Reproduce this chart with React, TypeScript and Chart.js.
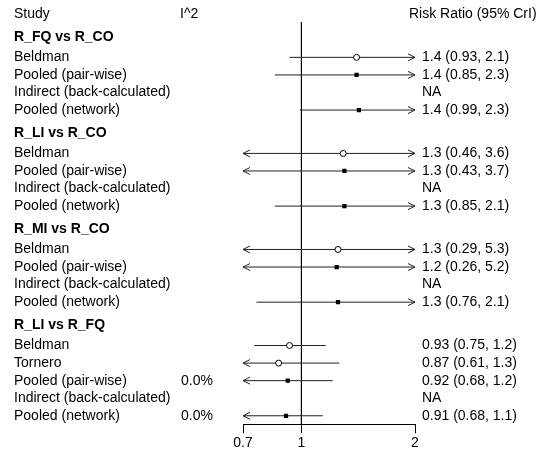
import React, { useEffect, useRef } from "react";
import { Chart, registerables } from "chart.js";

Chart.register(...registerables);

// ---- data ----
const headerLabels = ["Study", "I^2", "Risk Ratio (95% CrI)"];
const groupTitles = ["R_FQ vs R_CO", "R_LI vs R_CO", "R_MI vs R_CO", "R_LI vs R_FQ"];
const groupSizes = [4, 4, 4, 5];
const studyLabels = [
  "Beldman", "Pooled (pair-wise)", "Indirect (back-calculated)", "Pooled (network)",
  "Beldman", "Pooled (pair-wise)", "Indirect (back-calculated)", "Pooled (network)",
  "Beldman", "Pooled (pair-wise)", "Indirect (back-calculated)", "Pooled (network)",
  "Beldman", "Tornero", "Pooled (pair-wise)", "Indirect (back-calculated)", "Pooled (network)",
];
const heterogeneity = [
  "", "", "", "",
  "", "", "", "",
  "", "", "", "",
  "", "", "0.0%", "", "0.0%",
];
const markerKinds = [
  "study", "pooled", "none", "pooled",
  "study", "pooled", "none", "pooled",
  "study", "pooled", "none", "pooled",
  "study", "study", "pooled", "none", "pooled",
];
const estimates: (number | null)[] = [
  1.4, 1.4, null, 1.42,
  1.29, 1.3, null, 1.3,
  1.25, 1.24, null, 1.25,
  0.93, 0.87, 0.92, null, 0.91,
];
const lowers: (number | null)[] = [
  0.93, 0.85, null, 0.99,
  0.46, 0.43, null, 0.85,
  0.29, 0.26, null, 0.76,
  0.75, 0.61, 0.68, null, 0.68,
];
const uppers: (number | null)[] = [
  2.1, 2.3, null, 2.3,
  3.6, 3.7, null, 2.1,
  5.3, 5.2, null, 2.1,
  1.16, 1.26, 1.21, null, 1.14,
];
const ciLabels = [
  "1.4 (0.93, 2.1)", "1.4 (0.85, 2.3)", "NA", "1.4 (0.99, 2.3)",
  "1.3 (0.46, 3.6)", "1.3 (0.43, 3.7)", "NA", "1.3 (0.85, 2.1)",
  "1.3 (0.29, 5.3)", "1.2 (0.26, 5.2)", "NA", "1.3 (0.76, 2.1)",
  "0.93 (0.75, 1.2)", "0.87 (0.61, 1.3)", "0.92 (0.68, 1.2)", "NA", "0.91 (0.68, 1.1)",
];
const xTicks = [0.7, 1, 2];
const xMin = 0.7;
const xMax = 2;
const refValue = 1;

const FONT = '"Liberation Sans", Arial, Helvetica, sans-serif';

export default function App() {
  const canvasRef = useRef<HTMLCanvasElement>(null);

  useEffect(() => {
    const canvas = canvasRef.current;
    if (!canvas) return;

    // row layout (in row units)
    const titlePos: number[] = [];
    const rowPos: number[] = [];
    let pos = 0;
    groupSizes.forEach((n) => {
      pos += 1.31;
      titlePos.push(pos);
      pos += 1.16;
      for (let i = 0; i < n; i++) rowPos.push(pos + i);
      pos += n - 1;
    });
    const yTop = 0.456;
    const yBottom = rowPos[rowPos.length - 1] + 0.48;

    const circles: { x: number; y: number }[] = [];
    const squares: { x: number; y: number }[] = [];
    const ciSets: any[] = [];
    rowPos.forEach((y, i) => {
      const est = estimates[i];
      const lo = lowers[i];
      const hi = uppers[i];
      if (est == null || lo == null || hi == null) return;
      ciSets.push({
        data: [
          { x: Math.max(lo, xMin), y },
          { x: Math.min(hi, xMax), y },
        ],
        showLine: true,
        borderColor: "#222",
        borderWidth: 1,
        pointRadius: 0,
        pointHoverRadius: 0,
      });
      if (markerKinds[i] === "study") circles.push({ x: est, y });
      else if (markerKinds[i] === "pooled") squares.push({ x: est, y });
    });

    const textPlugin = {
      id: "forestText",
      afterDraw(chart: any) {
        const ctx = chart.ctx as CanvasRenderingContext2D;
        const ys = chart.scales.y;
        const xs = chart.scales.x;
        ctx.save();
        ctx.fillStyle = "#000";
        ctx.textBaseline = "middle";
        ctx.textAlign = "left";
        ctx.font = `14px ${FONT}`;
        const yh = ys.getPixelForValue(0);
        ctx.fillText(headerLabels[0], 14, yh);
        ctx.fillText(headerLabels[1], 180, yh);
        ctx.fillText(headerLabels[2], 409, yh);
        ctx.font = `bold 14px ${FONT}`;
        groupTitles.forEach((t, g) => {
          ctx.fillText(t, 14, ys.getPixelForValue(titlePos[g]));
        });
        ctx.font = `14px ${FONT}`;
        rowPos.forEach((p, i) => {
          const y = ys.getPixelForValue(p);
          ctx.fillText(studyLabels[i], 14, y);
          if (heterogeneity[i]) ctx.fillText(heterogeneity[i], 181, y);
          ctx.fillText(ciLabels[i], 422, y);
        });
        // arrow heads for intervals beyond the axis range
        ctx.strokeStyle = "#222";
        ctx.lineWidth = 1;
        rowPos.forEach((p, i) => {
          const lo = lowers[i];
          const hi = uppers[i];
          if (lo == null || hi == null) return;
          const y = ys.getPixelForValue(p);
          if (lo < xMin) {
            const x = xs.getPixelForValue(xMin);
            ctx.beginPath();
            ctx.moveTo(x + 7, y - 3.5);
            ctx.lineTo(x, y);
            ctx.lineTo(x + 7, y + 3.5);
            ctx.stroke();
          }
          if (hi > xMax) {
            const x = xs.getPixelForValue(xMax);
            ctx.beginPath();
            ctx.moveTo(x - 7, y - 3.5);
            ctx.lineTo(x, y);
            ctx.lineTo(x - 7, y + 3.5);
            ctx.stroke();
          }
        });
        ctx.restore();
      },
    };

    const chart = new Chart(canvas, {
      type: "scatter",
      data: {
        datasets: [
          {
            data: squares,
            pointStyle: "rect",
            pointRadius: 3,
            pointHoverRadius: 3,
            backgroundColor: "#000",
            borderColor: "#000",
            borderWidth: 0,
          },
          {
            data: circles,
            pointStyle: "circle",
            pointRadius: 3,
            pointHoverRadius: 3,
            backgroundColor: "#fff",
            borderColor: "#000",
            borderWidth: 1,
          },
          ...ciSets,
          {
            data: [
              { x: refValue, y: yTop },
              { x: refValue, y: yBottom },
            ],
            showLine: true,
            borderColor: "#000",
            borderWidth: 1,
            pointRadius: 0,
            pointHoverRadius: 0,
          },
        ] as any,
      },
      options: {
        animation: false,
        responsive: false,
        devicePixelRatio: 1,
        events: [],
        layout: { padding: { left: 243, right: 124, top: 22, bottom: 2 } },
        plugins: {
          legend: { display: false },
          tooltip: { enabled: false },
          title: { display: false },
        },
        scales: {
          x: {
            type: "logarithmic",
            min: xMin,
            max: xMax,
            afterBuildTicks: (axis: any) => {
              axis.ticks = xTicks.map((v) => ({ value: v }));
            },
            ticks: {
              callback: (v: any) => String(v),
              color: "#000",
              font: { family: FONT, size: 14 },
              padding: 2,
              maxRotation: 0,
              autoSkip: false,
            },
            grid: {
              drawOnChartArea: false,
              drawTicks: true,
              tickLength: 9,
              color: "#000",
              lineWidth: 1,
            },
            border: { display: true, color: "#000", width: 1 },
          },
          y: {
            type: "linear",
            display: false,
            reverse: true,
            min: yTop,
            max: yBottom,
          },
        },
      },
      plugins: [textPlugin],
    });

    return () => chart.destroy();
  }, []);

  return (
    <div style={{ position: "fixed", left: 0, top: 0, width: 539, height: 456, background: "#fff" }}>
      <canvas ref={canvasRef} width={539} height={456} style={{ width: 539, height: 456 }} />
    </div>
  );
}
